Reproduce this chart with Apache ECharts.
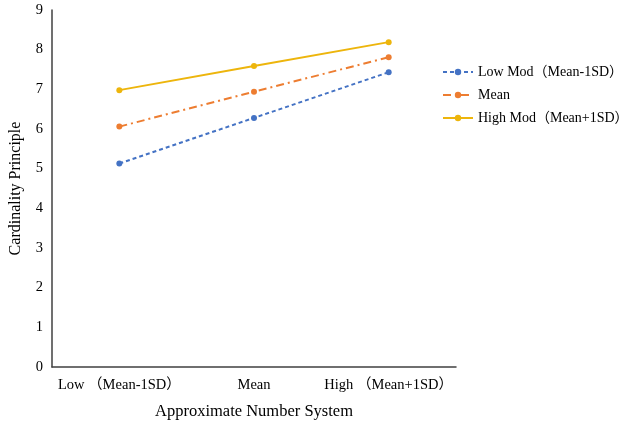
<!DOCTYPE html>
<html lang="en">
<head>
    <meta charset="UTF-8">
    <script src="https://cdn.jsdelivr.net/npm/echarts@6/dist/echarts.min.js"></script>
    <style>
        html, body { margin: 0; padding: 0; background: #fff; }
        #main { width: 624px; height: 428px; }
    </style>
</head>
<body>
    <div id="main"></div>
    <script>
        // data
        var categories = ['Low （Mean-1SD）', 'Mean', 'High （Mean+1SD）'];
        var lowMod = [5.13, 6.28, 7.43];
        var meanMod = [6.06, 6.94, 7.81];
        var highMod = [6.98, 7.59, 8.19];
        var yTicks = [0, 1, 2, 3, 4, 5, 6, 7, 8, 9];

        var font = '"Liberation Serif", "Times New Roman", "Noto Sans CJK SC", serif';

        function makeSeries(name, data, color, dash) {
            return {
                name: name,
                type: 'line',
                data: data,
                symbol: 'circle',
                symbolSize: 6,
                itemStyle: { color: color },
                lineStyle: { color: color, width: 2, type: dash },
                animation: false
            };
        }

        var chart = echarts.init(document.getElementById('main'));

        chart.setOption({
            backgroundColor: '#ffffff',
            textStyle: { fontFamily: font },
            grid: { left: 49, right: 168, top: 10, bottom: 61, containLabel: false },
            legend: {
                orient: 'vertical',
                left: 437,
                top: 60,
                itemWidth: 30,
                itemHeight: 8,
                itemGap: 9,
                textStyle: { fontFamily: font, fontSize: 14, color: '#000' },
                data: ['Low Mod（Mean-1SD）', 'Mean', 'High Mod（Mean+1SD）']
            },
            xAxis: {
                type: 'category',
                data: categories,
                boundaryGap: true,
                name: 'Approximate Number System',
                nameLocation: 'middle',
                nameGap: 36,
                nameTextStyle: { fontFamily: font, fontSize: 16.5, color: '#000' },
                axisLine: { lineStyle: { color: '#404040', width: 1.5 } },
                axisTick: { show: false },
                axisLabel: { interval: 0, fontFamily: font, fontSize: 14.5, color: '#000', margin: 11 }
            },
            yAxis: {
                type: 'value',
                min: yTicks[0],
                max: yTicks[yTicks.length - 1],
                interval: 1,
                name: 'Cardinality Principle',
                nameLocation: 'middle',
                nameGap: 28,
                nameTextStyle: { fontFamily: font, fontSize: 16, color: '#000' },
                axisLine: { show: true, lineStyle: { color: '#404040', width: 1.5 } },
                axisTick: { show: false },
                splitLine: { show: false },
                axisLabel: { fontFamily: font, fontSize: 14.5, color: '#000', margin: 9 }
            },
            series: [
                makeSeries('Low Mod（Mean-1SD）', lowMod, '#4472C4', [4, 3]),
                makeSeries('Mean', meanMod, '#ED7D31', [8, 4, 2, 4]),
                makeSeries('High Mod（Mean+1SD）', highMod, '#EDB50C', 'solid')
            ]
        });
    </script>
</body>
</html>
